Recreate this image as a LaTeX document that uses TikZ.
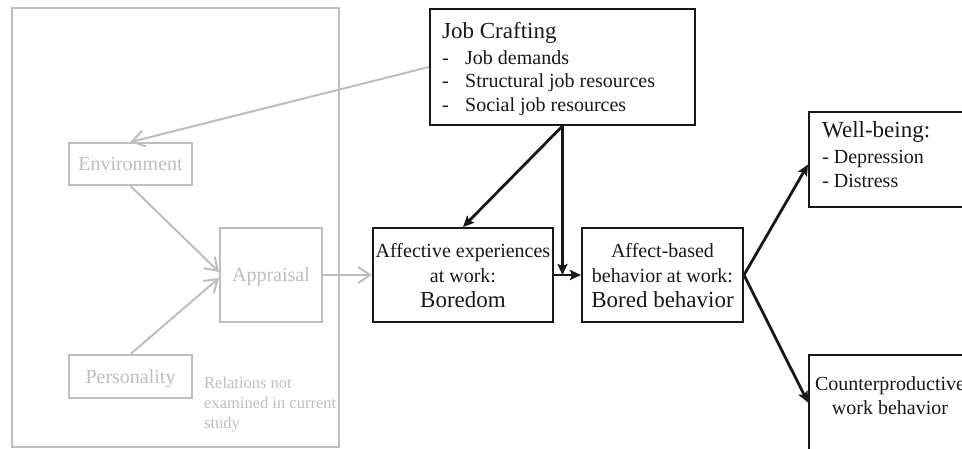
\documentclass[tikz,border=0pt]{standalone}
\usepackage{fontspec}
\setmainfont{Liberation Serif}
\usetikzlibrary{arrows.meta,calc}
\definecolor{faded}{RGB}{190,190,192}
\definecolor{ink}{RGB}{24,24,24}
\tikzset{
  fadedbox/.style={draw=faded, line width=2pt, text=faded, inner sep=0pt,
    text depth=0pt, font=\fontsize{20}{24}\selectfont},
  inkbox/.style={draw=ink, line width=2pt, inner sep=0pt},
  fadedarrow/.style={draw=faded, line width=2pt,
    -{Straight Barb[length=12pt,width=16pt]}},
  inkarrow/.style={draw=ink, line width=2.8pt,
    -{Stealth[length=11pt,width=10pt,inset=2pt]}},
  lbl/.style={inner sep=0pt, text=ink},
  fadedlbl/.style={inner sep=0pt, text=faded},
}
\begin{document}
\begin{tikzpicture}[x=1pt,y=-1pt]
\clip (0,0) rectangle (962,448);

% frame around the part of the model not examined here
\node[fadedbox, minimum width=327pt, minimum height=439pt] (frame) at (175.5,227.5) {};
\node[fadedlbl, anchor=base west] (frame-note) at (204,388)
  {\fontsize{16.5}{20}\selectfont\begin{tabular}[t]{@{}l@{}}Relations not\\ examined in current\\ study\end{tabular}};

% faded boxes
\node[fadedbox, minimum width=123pt, minimum height=42pt] (env) at (130.5,164) {Environment};
\node[fadedbox, minimum width=102pt, minimum height=94pt] (app) at (271,275) {Appraisal};
\node[fadedbox, minimum width=123pt, minimum height=43pt] (pers) at (130.5,376.5) {Personality};

% black boxes
\node[inkbox, minimum width=265pt, minimum height=116pt] (jc) at (562.5,67) {};
\node[inkbox, minimum width=180pt, minimum height=94pt] (aff) at (463,275) {};
\node[inkbox, minimum width=161pt, minimum height=94pt] (bb) at (662.5,275) {};
\node[inkbox, minimum width=162pt, minimum height=95pt] (wb) at (890,159.5) {};
\node[inkbox, minimum width=162pt, minimum height=95pt] (cwb) at (890,402.5) {};

% box texts
\node[lbl, anchor=base west] (jc-title) at (442,38)
  {\fontsize{23}{26}\selectfont Job Crafting};
\node[lbl, anchor=base west] (jc-items) at (442,64)
  {\fontsize{20}{23.5}\selectfont\begin{tabular}[t]{@{}l@{}}
   \makebox[23pt][l]{-}Job demands\\
   \makebox[23pt][l]{-}Structural job resources\\
   \makebox[23pt][l]{-}Social job resources\end{tabular}};
\node[lbl, anchor=base] (aff-text) at (463,257)
  {\fontsize{20}{25}\selectfont\begin{tabular}[t]{@{}c@{}}
   Affective experiences\\ at work:\\ {\fontsize{23}{25}\selectfont Boredom}\end{tabular}};
\node[lbl, anchor=base] (bb-text) at (662.5,257)
  {\fontsize{20}{25}\selectfont\begin{tabular}[t]{@{}c@{}}
   Affect-based\\ behavior at work:\\ {\fontsize{23}{25}\selectfont Bored behavior}\end{tabular}};
\node[lbl, anchor=base west] (wb-text) at (822,137)
  {\fontsize{20}{24}\selectfont\begin{tabular}[t]{@{}l@{}}
   {\fontsize{23}{24}\selectfont Well-being:}\\[2pt]
   - Depression\\ - Distress\end{tabular}};
\node[lbl, anchor=base] (cwb-text) at (890,390)
  {\fontsize{20}{24}\selectfont\begin{tabular}[t]{@{}c@{}}
   Counterproductive\\ work behavior\end{tabular}};

% faded connectors
\draw[fadedarrow] (jc.west) -- (env.north);
\draw[fadedarrow] (env.south) -- ([yshift=3pt]app.west);
\draw[fadedarrow] (pers.north) -- ([yshift=-3pt]app.west);
\draw[fadedarrow] (app.east) -- (aff.west);

% black connectors
\coordinate (junction) at (jc.south |- aff.east);
\draw[inkarrow] (jc.south) -- (aff.north);
\draw[inkarrow] (jc.south) -- (junction);
\draw[inkarrow] (aff.east) -- (bb.west);
\draw[inkarrow] (bb.east) -- ([yshift=-5pt]wb.west);
\draw[inkarrow] (bb.east) -- (cwb.west);
\end{tikzpicture}
\end{document}
